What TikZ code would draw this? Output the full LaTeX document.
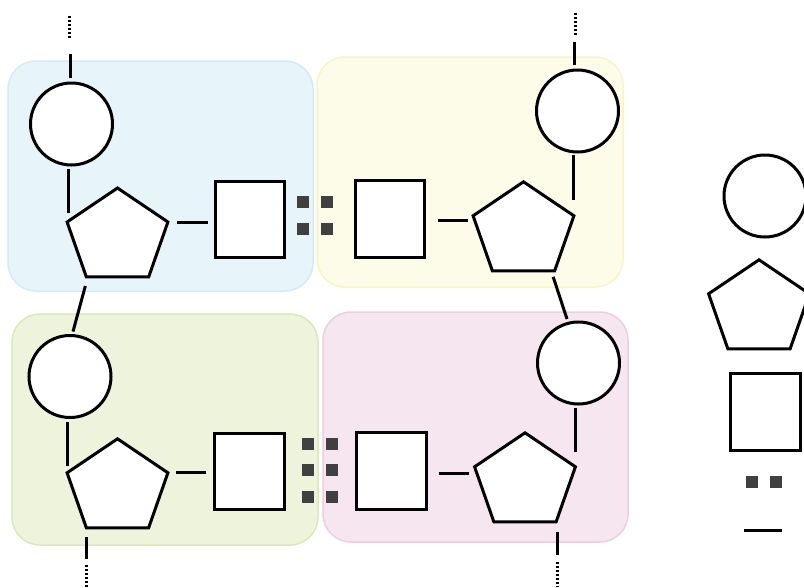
\documentclass[tikz,border=0pt]{standalone}
\usetikzlibrary{shapes.geometric}
\definecolor{bluefill}{HTML}{E7F4F9}
\definecolor{blueline}{HTML}{D3EBF3}
\definecolor{yellowfill}{HTML}{FCFCE8}
\definecolor{yellowline}{HTML}{F6F4C8}
\definecolor{greenfill}{HTML}{EEF3DC}
\definecolor{greenline}{HTML}{DDE8BA}
\definecolor{pinkfill}{HTML}{F6E6F0}
\definecolor{pinkline}{HTML}{EFCDE1}
\definecolor{dotgray}{HTML}{404040}
\tikzset{
  region/.style={line width=1.5pt, rounded corners=28pt},
  ring/.style={circle, draw=black, fill=white, line width=3pt, minimum size=82pt, inner sep=0pt, outer sep=0pt},
  pent/.style={regular polygon, regular polygon sides=5, draw=black, fill=white, line width=3pt, minimum size=106pt, inner sep=0pt, outer sep=0pt, yscale=0.928},
  sqbox/.style={rectangle, draw=black, fill=white, line width=3pt, minimum width=69pt, minimum height=76pt, inner sep=0pt, outer sep=0pt},
  dotsq/.style={rectangle, fill=dotgray, minimum size=12pt, inner sep=0pt, outer sep=0pt},
  link/.style={line width=3pt, black},
  dotline/.style={line width=3pt, black, dash pattern=on 2.3pt off 1.7pt}
}
\begin{document}
\begin{tikzpicture}[x=1pt,y=-1pt]
\useasboundingbox[fill=white] (0,0) rectangle (804,587);
% regions
\path[region, fill=bluefill, draw=blueline] (8,61) rectangle (313,291);
\path[region, fill=yellowfill, draw=yellowline] (317,57) rectangle (623,287);
\path[region, fill=greenfill, draw=greenline] (12,314) rectangle (318,545);
\path[region, fill=pinkfill, draw=pinkline] (323,312) rectangle (628,542);
% quadrant 1
\node[ring] (c1) at (71.5,124) {};
\node[pent] (p1) at (117.5,237.2) {};
\node[sqbox] (s1) at (250,219) {};
% quadrant 2
\node[ring] (c2) at (577.5,111) {};
\node[pent] (p2) at (523.5,231) {};
\node[sqbox, minimum height=77pt] (s2) at (389.5,218.5) {};
% quadrant 3
\node[ring] (c3) at (70,376.5) {};
\node[pent] (p3) at (117.5,488) {};
\node[sqbox, minimum width=70pt] (s3) at (249,471) {};
% quadrant 4
\node[ring] (c4) at (578.5,363) {};
\node[pent] (p4) at (525,482) {};
\node[sqbox, minimum width=70pt, minimum height=77pt] (s4) at (391,470.5) {};
% legend
\node[ring] (c5) at (765,196) {};
\node[pent] (p5) at (759,309) {};
\node[sqbox, minimum width=70pt, minimum height=77pt] (s5) at (765,411.5) {};
% dots
\node[dotsq] (d1) at (303,202) {};
\node[dotsq] (d2) at (327,202) {};
\node[dotsq] (d3) at (303,229) {};
\node[dotsq] (d4) at (327,229) {};
\node[dotsq] (e1) at (308,444) {};
\node[dotsq] (e2) at (332,444) {};
\node[dotsq] (e3) at (308,470) {};
\node[dotsq] (e4) at (332,470) {};
\node[dotsq] (e5) at (308,497) {};
\node[dotsq] (e6) at (332,497) {};
\node[dotsq] (f1) at (752,482) {};
\node[dotsq] (f2) at (776,482) {};
% connectors quadrant 1
\draw[dotline] ([shift={(-2.5pt,45pt)}]c1.north) -- ++(0,-23);
\draw[link] ([shift={(-1.5pt,5pt)}]c1.north) -- ++(0,-24);
\draw[link] ([shift={(1pt,-4pt)}]p1.corner 2 |- c1.south) -- ([shift={(1pt,9pt)}]p1.corner 2);
\draw[link] ([xshift=9pt]p1.corner 5) -- ([xshift=-8pt]s1.west |- p1.corner 5);
\draw[link] ([shift={(-1pt,-9pt)}]p1.corner 3) -- ([shift={(3pt,4pt)}]c3.north);
% connectors quadrant 2
\draw[dotline] ([shift={(-2.5pt,35pt)}]c2.north) -- ++(0,-23);
\draw[link] ([shift={(-3.5pt,5pt)}]c2.north) -- ++(0,-23);
\draw[link] ([yshift=-3pt]p2.corner 5 |- c2.south) -- ([yshift=16pt]p2.corner 5);
\draw[link] ([shift={(14pt,-1.5pt)}]s2.east) -- ++(30,0);
\draw[link] ([shift={(-1.5pt,-6pt)}]p2.corner 4) -- ([shift={(-11.5pt,3pt)}]c4.north);
% connectors quadrant 3
\draw[link] ([yshift=-4.5pt]p3.corner 2 |- c3.south) -- ([yshift=7pt]p3.corner 2);
\draw[link] ([xshift=8pt]p3.corner 5) -- ([xshift=-8pt]s3.west |- p3.corner 5);
\draw[link] ([shift={(0.5pt,-9pt)}]p3.corner 3) -- ++(0,22);
\draw[dotline] ([shift={(-0.3pt,-37pt)}]p3.corner 3) -- ++(0,22);
% connectors quadrant 4
\draw[link] ([yshift=-4pt]p4.corner 5 |- c4.south) -- ([yshift=15pt]p4.corner 5);
\draw[link] ([shift={(13pt,-2.5pt)}]s4.east) -- ++(30,0);
\draw[link] ([shift={(1pt,-10pt)}]p4.corner 4) -- ++(0,23);
\draw[dotline] ([shift={(1pt,-40pt)}]p4.corner 4) -- ++(0,25);
% legend line
\coordinate (l1) at (744,530);
\coordinate (l2) at (782,530);
\draw[link] (l1) -- (l2);
\end{tikzpicture}
\end{document}
